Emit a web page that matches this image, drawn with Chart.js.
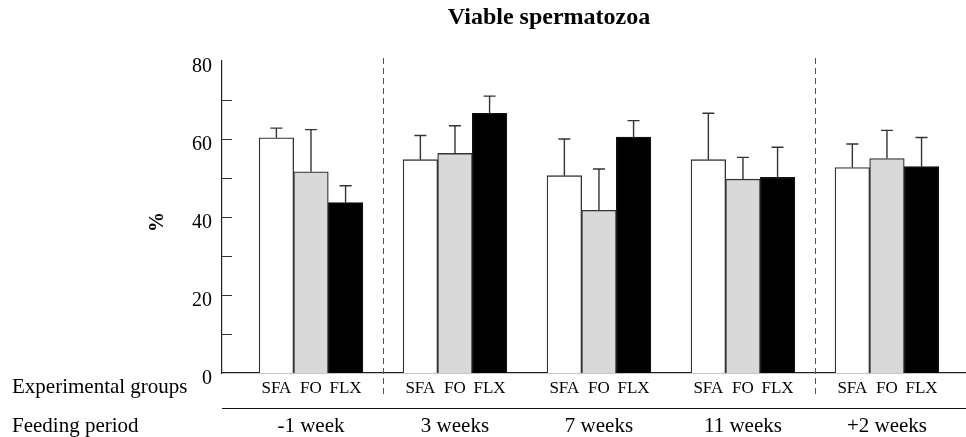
<!DOCTYPE html>
<html>
<head>
<meta charset="utf-8">
<script src="https://cdn.jsdelivr.net/npm/chart.js@4/dist/chart.umd.min.js"></script>
<style>
  html, body { margin: 0; padding: 0; background: #fff; }
  #wrap { width: 966px; height: 437px; position: relative; }
</style>
</head>
<body>
<div id="wrap"><canvas id="c"></canvas></div>
<script>
  // feeding periods and groups
  var periods = ["-1 week", "3 weeks", "7 weeks", "11 weeks", "+2 weeks"];
  var groups = ["SFA", "FO", "FLX"];

  // mean viable spermatozoa (%) per group, per period
  var sfaMean = [60.3, 54.7, 50.6, 54.7, 52.7];
  var foMean  = [51.6, 56.3, 41.7, 49.7, 55.0];
  var flxMean = [43.7, 66.6, 60.5, 50.2, 52.9];

  // upper error bars (SD)
  var sfaErr = [2.5, 6.2, 9.4, 11.9, 6.0];
  var foErr  = [10.8, 7.1, 10.6, 5.6, 7.2];
  var flxErr = [4.3, 4.4, 4.2, 7.7, 7.5];

  // y ticks every 10, labelled every 20
  var yTicks = [0, 20, 40, 60, 80];
  // dashed separators sit between periods (x scale units)
  var dividers = [0.5, 3.5];

  var SERIF = "'Liberation Serif', 'Times New Roman', serif";

  function pts(arr) { return arr.map(function (v, i) { return { x: i, y: v }; }); }

  var errPlugin = {
    id: "errbars",
    afterDatasetsDraw: function (chart) {
      var ctx = chart.ctx, y = chart.scales.y;
      chart.data.datasets.forEach(function (ds, di) {
        var meta = chart.getDatasetMeta(di);
        meta.data.forEach(function (bar, i) {
          var top = y.getPixelForValue(ds.data[i].y + ds.err[i]);
          ctx.save();
          ctx.strokeStyle = "#333";
          ctx.lineWidth = 1.4;
          ctx.beginPath();
          ctx.moveTo(bar.x, bar.y);
          ctx.lineTo(bar.x, top);
          ctx.moveTo(bar.x - 6, top);
          ctx.lineTo(bar.x + 6, top);
          ctx.stroke();
          ctx.restore();
        });
      });
    }
  };

  var decorPlugin = {
    id: "decor",
    afterDraw: function (chart) {
      var ctx = chart.ctx, x = chart.scales.x, y = chart.scales.y;
      var left = chart.chartArea.left;
      ctx.save();

      // inward minor ticks on y axis
      ctx.strokeStyle = "#333";
      ctx.lineWidth = 1;
      for (var v = 10; v < 80; v += 10) {
        var py = Math.round(y.getPixelForValue(v)) + 0.5;
        ctx.beginPath();
        ctx.moveTo(left, py);
        ctx.lineTo(left + 10, py);
        ctx.stroke();
      }

      // dashed period separators
      ctx.strokeStyle = "#555";
      ctx.setLineDash([6, 4]);
      dividers.forEach(function (d) {
        var px = Math.round(x.getPixelForValue(d)) + 0.5;
        ctx.beginPath();
        ctx.moveTo(px, 58);
        ctx.lineTo(px, 398);
        ctx.stroke();
      });
      ctx.setLineDash([]);

      // line between group row and period row
      ctx.strokeStyle = "#111";
      ctx.lineWidth = 1.2;
      ctx.beginPath();
      ctx.moveTo(left, 408.5);
      ctx.lineTo(chart.width, 408.5);
      ctx.stroke();

      ctx.fillStyle = "#000";

      // title
      ctx.font = "bold 24px " + SERIF;
      ctx.textAlign = "center";
      ctx.textBaseline = "alphabetic";
      ctx.fillText("Viable spermatozoa", 549, 24);

      // y label
      ctx.save();
      ctx.translate(158, 222);
      ctx.rotate(-Math.PI / 2);
      ctx.font = "bold 20px " + SERIF;
      ctx.textBaseline = "middle";
      ctx.fillText("%", 0, 0);
      ctx.restore();

      // row captions
      ctx.font = "21px " + SERIF;
      ctx.textAlign = "left";
      ctx.fillText("Experimental groups", 12, 393);
      ctx.fillText("Feeding period", 12, 432);

      // group names under each bar
      ctx.font = "17px " + SERIF;
      ctx.textAlign = "center";
      chart.data.datasets.forEach(function (ds, di) {
        chart.getDatasetMeta(di).data.forEach(function (bar) {
          ctx.fillText(groups[di], bar.x, 393);
        });
      });

      // period names
      ctx.font = "21px " + SERIF;
      periods.forEach(function (p, i) {
        ctx.fillText(p, x.getPixelForValue(i), 432);
      });

      ctx.restore();
    }
  };

  new Chart(document.getElementById("c"), {
    type: "bar",
    data: {
      datasets: [
        { label: groups[0], data: pts(sfaMean), err: sfaErr, backgroundColor: "#ffffff", borderColor: "#333", borderWidth: 1.3 },
        { label: groups[1], data: pts(foMean), err: foErr, backgroundColor: "#d9d9d9", borderColor: "#333", borderWidth: 1.3 },
        { label: groups[2], data: pts(flxMean), err: flxErr, backgroundColor: "#000000", borderColor: "#111", borderWidth: 1.3 }
      ]
    },
    options: {
      responsive: true,
      maintainAspectRatio: false,
      animation: false,
      layout: { padding: { left: 182, right: 0, top: 61, bottom: 0 } },
      datasets: { bar: { barThickness: 34.6 } },
      plugins: { legend: { display: false }, tooltip: { enabled: false }, title: { display: false } },
      scales: {
        x: {
          type: "linear",
          min: -0.618,
          max: 4.549,
          offset: false,
          grid: { display: false, offset: false },
          ticks: { display: false, stepSize: 1 },
          border: { display: true, color: "#222", width: 1.2 },
          afterFit: function (s) { s.height = 64; }
        },
        y: {
          min: 0,
          max: 80,
          grid: { display: false, drawTicks: false },
          border: { display: true, color: "#222", width: 1.2 },
          ticks: {
            stepSize: 10,
            padding: 10,
            labelOffset: 6,
            color: "#000",
            font: { family: SERIF, size: 20 },
            callback: function (v) { return yTicks.indexOf(v) >= 0 ? String(v) : ""; }
          },
          afterFit: function (s) { s.width = 40; }
        }
      }
    },
    plugins: [errPlugin, decorPlugin]
  });
</script>
</body>
</html>
